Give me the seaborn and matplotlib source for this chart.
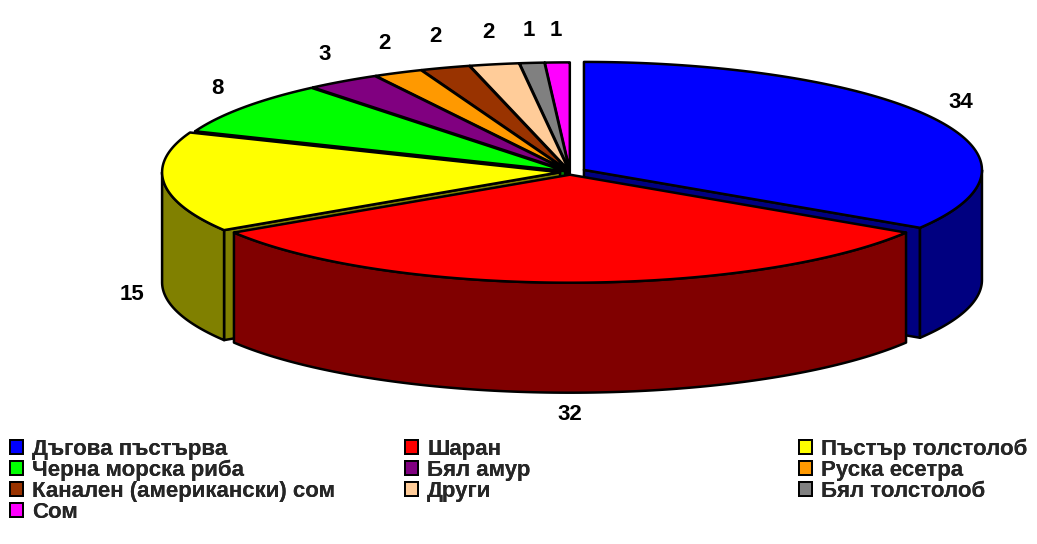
import numpy as np
import matplotlib
matplotlib.use("Agg")
import matplotlib.pyplot as plt
from matplotlib.patches import Polygon, Patch
from matplotlib.colors import to_rgb
import seaborn as sns

# ---- data -------------------------------------------------------------
species = [
    "Дъгова пъстърва", "Шаран", "Пъстър толстолоб", "Черна морска риба",
    "Бял амур", "Руска есетра", "Канален (американски) сом", "Други",
    "Бял толстолоб", "Сом",
]
shares = [34, 32, 15, 8, 3, 2, 2, 2, 1, 1]

# ---- style ------------------------------------------------------------
colors = ["#0000FF", "#FF0000", "#FFFF00", "#00FF00", "#800080",
          "#FF9900", "#993300", "#FFCC99", "#808080", "#FF00FF"]
explode = [0.04, 0.025, 0.025, 0.015, 0.015, 0.015, 0.015, 0.015, 0.015, 0.015]

sns.set_theme(style="white")
plt.rcParams["font.family"] = ["Liberation Sans", "DejaVu Sans"]

W, H, DPI = 1037, 544, 100
fig = plt.figure(figsize=(W / DPI, H / DPI), dpi=DPI)
ax = fig.add_axes([0, 0, 1, 1])
ax.set_xlim(0, W)
ax.set_ylim(H, 0)
ax.axis("off")

# pie geometry (screen units)
CX, CY = 570, 172
RX, RY = 398, 108
DEPTH = 110
LW = 1.8
FS = 16


def shade(c, f=0.5):
    r, g, b = to_rgb(c)
    return (r * f, g * f, b * f)


def proj(x, y, z=0.0):
    return (CX + RX * x, CY - RY * y + z)


total = float(sum(shares))
cum = np.concatenate([[0.0], np.cumsum(shares)])
start = 90.0 - 360.0 * cum[:-1] / total   # counter-clockwise end of each wedge
end = 90.0 - 360.0 * cum[1:] / total      # clockwise end of each wedge

wedges = []
for i, v in enumerate(shares):
    a1, a2 = end[i], start[i]
    mid = np.radians((a1 + a2) / 2)
    ox, oy = explode[i] * np.cos(mid), explode[i] * np.sin(mid)
    wedges.append((i, a1, a2, mid, ox, oy))

# paint from the back of the pie to the front
order = sorted(wedges, key=lambda w: -np.sin(w[3]))

for i, a1, a2, mid, ox, oy in order:
    col = colors[i]
    dark = shade(col)
    ts = np.radians(np.linspace(a1, a2, 120))
    rim = [(ox + np.cos(t), oy + np.sin(t)) for t in ts]

    # cut faces turned towards the viewer
    for ang, vis in ((a1, np.cos(np.radians(a1)) > 1e-6),
                     (a2, np.cos(np.radians(a2)) < -1e-6)):
        if vis:
            t = np.radians(ang)
            px, py = ox + np.cos(t), oy + np.sin(t)
            face = [proj(ox, oy), proj(px, py), proj(px, py, DEPTH), proj(ox, oy, DEPTH)]
            ax.add_patch(Polygon(face, closed=True, facecolor=dark,
                                 edgecolor="black", lw=LW, joinstyle="round"))

    # outer wall on the front half
    lo, hi = max(a1, -180.0), min(a2, 0.0)
    if lo < hi:
        tf = np.radians(np.linspace(lo, hi, 120))
        topedge = [proj(ox + np.cos(t), oy + np.sin(t)) for t in tf]
        botedge = [proj(ox + np.cos(t), oy + np.sin(t), DEPTH) for t in tf[::-1]]
        ax.add_patch(Polygon(topedge + botedge, closed=True, facecolor=dark,
                             edgecolor="black", lw=LW, joinstyle="round"))

    # top face
    top = [proj(ox, oy)] + [proj(x, y) for x, y in rim]
    ax.add_patch(Polygon(top, closed=True, facecolor=col,
                         edgecolor="black", lw=LW, joinstyle="round"))

# value labels
for i, a1, a2, mid, ox, oy in wedges:
    s = np.sin(mid)
    lx = CX + RX * ox + RX * 1.08 * np.cos(mid)
    if s < 0:
        ly = CY - RY * oy - RY * 1.2 * s + DEPTH
    else:
        ly = CY - RY * oy - RY * 1.3 * s
    ax.text(lx, ly, f"{shares[i]}", ha="center", va="center",
            fontsize=FS, fontweight="bold", color="black")

# legend laid out row by row in three columns
handles = [Patch(facecolor=c, edgecolor="black", linewidth=1.4) for c in colors]
col_x = [10 / W, 405 / W, 799 / W]
for k in range(3):
    idx = list(range(k, len(species), 3))
    lg = fig.legend([handles[j] for j in idx], [species[j] for j in idx],
                    loc="upper left", bbox_to_anchor=(col_x[k], 1 - 439 / H),
                    frameon=False, handlelength=0.6, handleheight=0.6,
                    handletextpad=0.4, labelspacing=0.0, borderpad=0,
                    borderaxespad=0, prop=dict(weight="bold", size=FS))
    fig.add_artist(lg)

fig.savefig("out.png", dpi=DPI, facecolor="white")
